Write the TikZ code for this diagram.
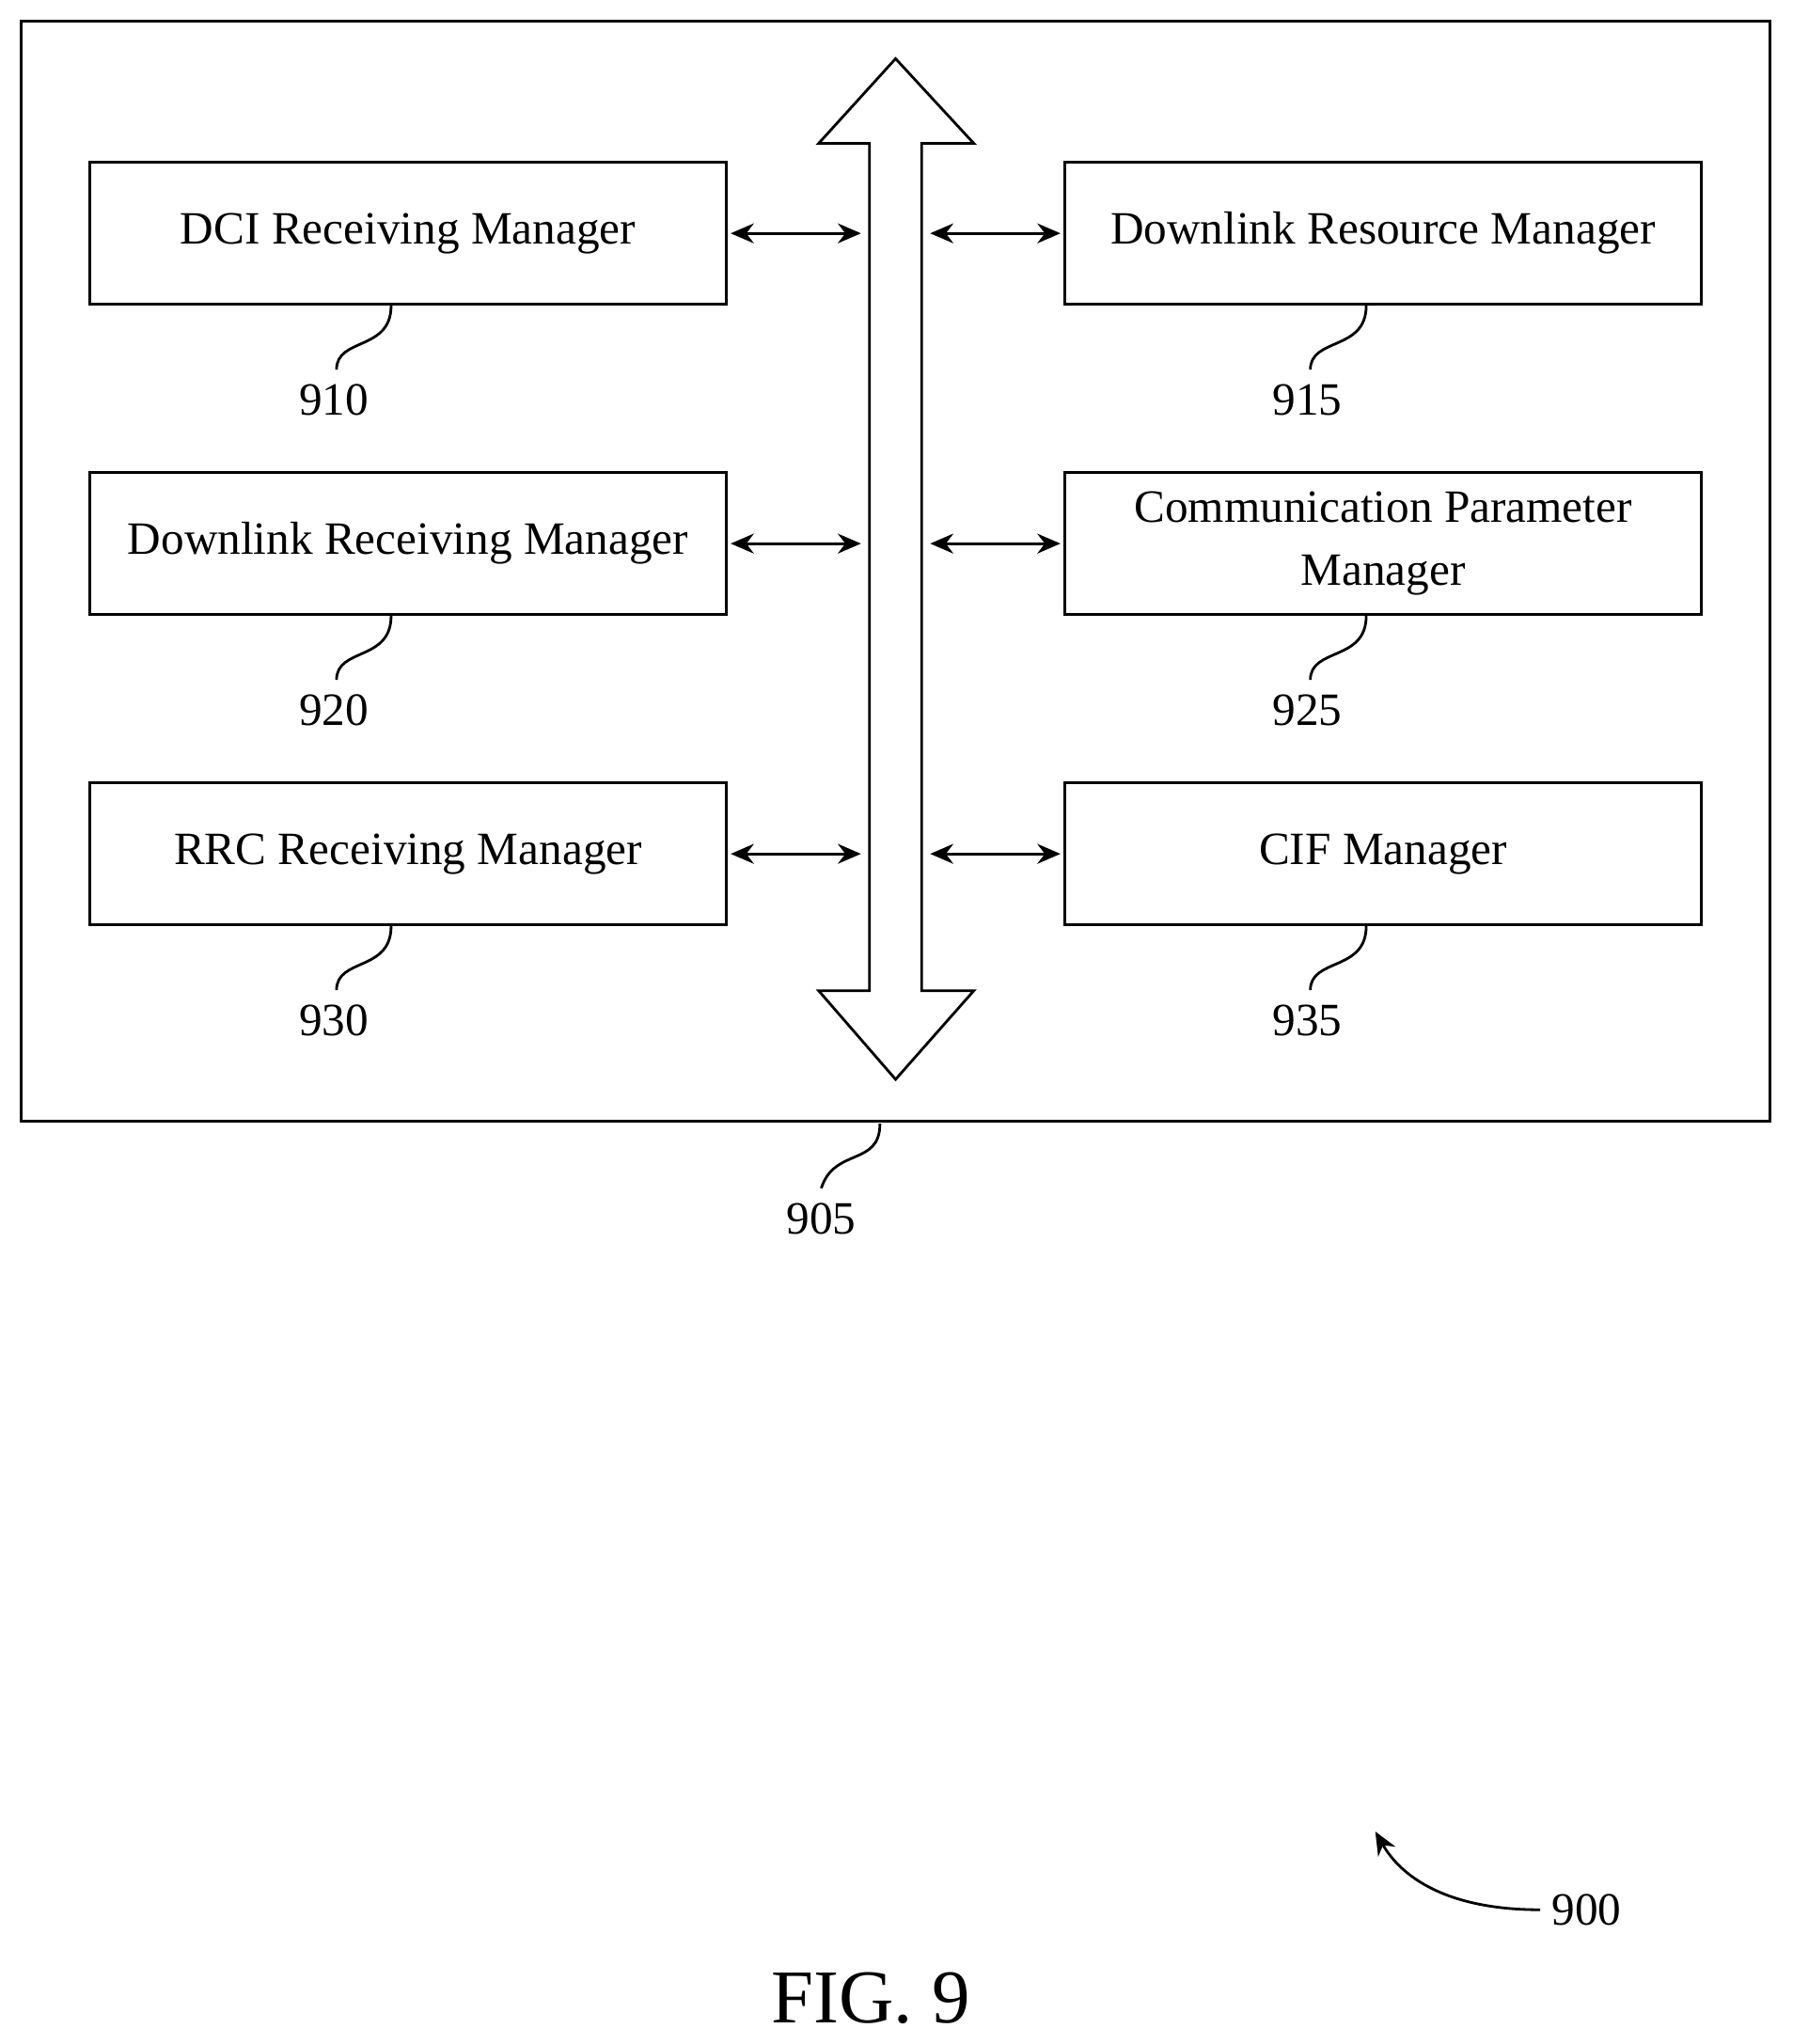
\documentclass[tikz,border=0pt]{standalone}
\usepackage{fontspec}
\setmainfont{Liberation Serif}
\usetikzlibrary{positioning,shapes,arrows.meta}

\begin{document}
\begin{tikzpicture}[%
        x=0.01386cm,y=-0.01386cm,
        >={Stealth[length=7pt,width=6pt]},
        manager/.style={%
          draw,
          thick,
          minimum width=6.76cm,
          minimum height=1.51cm,
          align=center,
          font=\fontsize{14}{19}\selectfont
        },
        refnum/.style={font=\fontsize{14}{16}\selectfont},
        link/.style={<->,thick,shorten >=1pt,shorten <=1pt}
      ]
      \useasboundingbox (0,0) rectangle (1375,1568);
      \draw[thick] (16,16) rectangle (1358,860);
      % bus
      \draw[thick] (667,760) -- (667,110) -- (628,110) -- (687,45) -- (747,110)
        -- (707,110) -- (707,760) -- (747,760) -- (687,828) -- (628,760) -- cycle;
      \coordinate (busL1) at (663,179);
      \coordinate (busR1) at (711,179);
      \coordinate (busL2) at (663,417);
      \coordinate (busR2) at (711,417);
      \coordinate (busL3) at (663,655);
      \coordinate (busR3) at (711,655);
      \node[manager] (dci) at (313,179) {DCI Receiving Manager};
      \node[manager] (dl) at (313,417) {Downlink Receiving Manager};
      \node[manager] (rrc) at (313,655) {RRC Receiving Manager};
      \node[manager] (res) at (1061,179) {Downlink Resource Manager};
      \node[manager] (par) at (1061,417) {Communication Parameter\\Manager};
      \node[manager] (cif) at (1061,655) {CIF Manager};
      \draw[link] (dci) -- (busL1);
      \draw[link] (dl) -- (busL2);
      \draw[link] (rrc) -- (busL3);
      \draw[link] (res) -- (busR1);
      \draw[link] (par) -- (busR2);
      \draw[link] (cif) -- (busR3);
      % reference numerals
      \foreach \name/\num/\x/\y in {dci/910/256/307,dl/920/256/545,rrc/930/256/783,
                                    res/915/1003/307,par/925/1003/545,cif/935/1003/783}{
        \node[refnum] (n\num) at (\x,\y) {\num};
        \draw[thick] ([xshift=-0.18cm]\name.south) .. controls +(0,35) and +(0,-25)
          .. ([xshift=0.03cm,yshift=1pt]n\num.north);
      }
      \node[refnum] (n905) at (630,935) {905};
      \draw[thick] (675,862) .. controls (675,895) and (640,880) .. ([yshift=1pt]n905.north);
      \node[refnum] (n900) at (1217,1465) {900};
      \coordinate (tip900) at (1055,1405);
      \draw[thick,->] (n900.west) .. controls (1110,1465) and (1075,1440) .. (tip900);
      \node[font=\fontsize{23}{28}\selectfont] (fig) at (668,1533) {FIG. 9};
  \end{tikzpicture}
\end{document}
